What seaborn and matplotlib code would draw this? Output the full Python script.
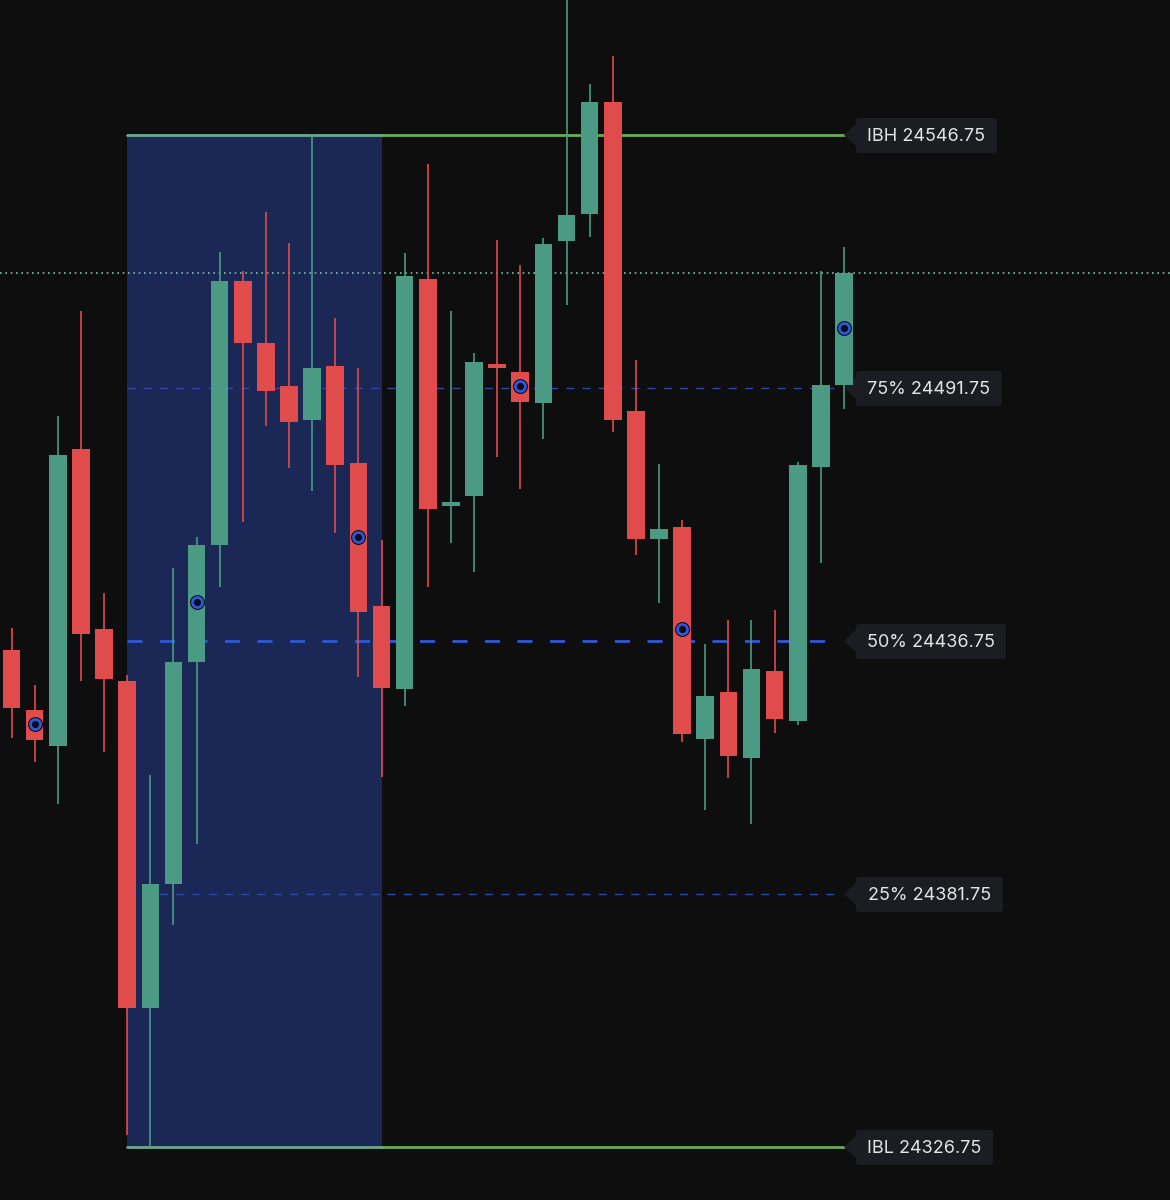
import matplotlib
matplotlib.use("Agg")
import matplotlib.pyplot as plt
import numpy as np
import pandas as pd
import seaborn as sns
from matplotlib.patches import FancyBboxPatch, Polygon

opens = [24434.75, 24421.75, 24414, 24478.5, 24439.25, 24428, 24357, 24384, 24432.25, 24457.5, 24515, 24501.5,
         24492.25, 24484.75, 24496.5, 24475.5, 24444.25, 24426.25, 24515.5, 24466, 24468.25, 24497, 24495.25,
         24488.5, 24523.75, 24529.5, 24554, 24486.75, 24459, 24461.5, 24415.5, 24425.75, 24411.25, 24430.25,
         24419.25, 24474.5, 24492.5]
highs = [24439.5, 24427.25, 24485.75, 24508.5, 24447.25, 24429.25, 24407.5, 24452.5, 24459.25, 24521.25, 24517.25,
         24530, 24523.25, 24546.75, 24507, 24496, 24458.75, 24521, 24540.5, 24508.5, 24499.25, 24524, 24518.5,
         24524.25, 24578.25, 24557.75, 24564, 24497.75, 24475.25, 24463, 24436, 24441.25, 24441.25, 24443.5,
         24475.75, 24517.25, 24522.5]
lows = [24415.75, 24410.5, 24401.25, 24428, 24412.5, 24329.25, 24326.75, 24375, 24392.5, 24448.5, 24462.5, 24483.5,
        24474.25, 24469.25, 24460.25, 24429, 24407.25, 24422.5, 24448.5, 24458, 24451.75, 24476.75, 24469.75,
        24480.75, 24509.75, 24524.5, 24482.25, 24455.5, 24445, 24414.75, 24400, 24407, 24397, 24416.75,
        24418.5, 24453.75, 24487.25]
closes = [24422.25, 24415.25, 24477.25, 24438.25, 24428.5, 24357, 24384, 24432.25, 24457.5, 24515, 24501.5, 24491,
          24484.25, 24496, 24475, 24443, 24426.5, 24516, 24465.5, 24467, 24497.5, 24496, 24488.75,
          24523, 24529.25, 24554, 24484.75, 24459, 24461, 24416.5, 24424.75, 24411.75, 24430.75, 24419.75,
          24475, 24492.5, 24516.75]

marker_bars = [1, 8, 15, 22, 29, 36]
marker_prices = [24418.75, 24445.25, 24459.25, 24492.25, 24439.25, 24504.75]

level_names = ["IBH", "75%", "50%", "25%", "IBL"]
level_prices = [24546.75, 24491.75, 24436.75, 24381.75, 24326.75]
last_price = 24516.75
session_start = 5
session_end = 16
levels_end = 36

BG = "#0e0e0e"
RED = "#e04b4c"
GREEN = "#4a9a84"
LEVEL_GREEN = "#6aab58"
LEVEL_TINT = "#6ca98c"
BLUE = "#2f58d8"


def draw_tag(ax, x, price, text, width):
    # tag is sized in pixels, anchored at the level's end
    px, py = ax.transData.transform((x, price))
    box = FancyBboxPatch((px + 12, py - 18), width - 12, 35, boxstyle="round,pad=0,rounding_size=3",
                         fc="#1c1d22", ec="none", transform=None, zorder=2.5)
    ax.add_artist(box)
    notch = Polygon([(px, py), (px + 13, py + 12), (px + 13, py - 12)], fc="#1c1d22", ec="none",
                    transform=None, zorder=2.5)
    ax.add_artist(notch)
    ax.text(px + 12 + (width - 12) / 2, py - 1.5, text, transform=None, color="#e4e4e6", fontsize=13,
            ha="center", va="center", family=["Inter", "DejaVu Sans"], zorder=7)


def main():
    sns.set_theme(style="dark", rc={"figure.facecolor": BG, "axes.facecolor": BG})
    df = pd.DataFrame({"open": opens, "high": highs, "low": lows, "close": closes})
    df["bar"] = np.arange(len(df))
    df["color"] = [GREEN if c > o else RED for o, c in zip(df["open"], df["close"])]

    fig = plt.figure(figsize=(11.7, 12), dpi=100)
    ax = fig.add_axes([0, 0, 1, 1])
    ax.set_xlim(-0.5, 50.1)
    ax.set_ylim(24315.2, 24576.1)
    ax.axis("off")

    ax.fill_between([session_start, session_end], level_prices[4], level_prices[0], color="#1b2855", lw=0, zorder=1)

    # levels, the session box tints them where they overlap
    for price in (level_prices[0], level_prices[4]):
        sns.lineplot(x=[session_end, levels_end], y=[price] * 2, color=LEVEL_GREEN, lw=2, ax=ax, zorder=2)
        sns.lineplot(x=[session_start, session_end], y=[price] * 2, color=LEVEL_TINT, lw=2, ax=ax, zorder=2)
    sns.lineplot(x=[session_start, levels_end - 0.6], y=[level_prices[2]] * 2, color=BLUE, lw=2, ax=ax, zorder=2)
    ax.lines[-1].set_dashes((5.4, 6.3))
    for i in (1, 3):
        sns.lineplot(x=[session_start, levels_end - 0.3], y=[level_prices[i]] * 2, color="#3146a8", lw=1, ax=ax, zorder=2)
        ax.lines[-1].set_dashes((5.8, 5.9))
    ax.axhline(last_price, color="#6cc0a0", lw=1.2, ls=(0, (1, 2.2)), zorder=2)

    # candles
    ax.vlines(df["bar"], df["low"], df["high"], colors=df["color"], lw=1.2, zorder=3)
    ax.bar(df["bar"], (df["close"] - df["open"]).abs(), bottom=df[["open", "close"]].min(axis=1),
           width=0.76, color=df["color"], lw=0, zorder=4)

    # session markers
    sns.scatterplot(x=marker_bars, y=marker_prices, s=115, color="#050510", linewidth=0, ax=ax, zorder=5)
    sns.scatterplot(x=marker_bars, y=marker_prices, s=52, color="#0c0d1a", edgecolor=BLUE, linewidth=2, ax=ax, zorder=5)

    widths = [141, 146, 150, 147, 137]
    for name, price, width in zip(level_names, level_prices, widths):
        draw_tag(ax, levels_end, price, f"{name} {price:.2f}", width + 12)

    ax.set_xlim(-0.5, 50.1)
    ax.set_ylim(24315.2, 24576.1)
    fig.savefig("out.png", dpi=100, facecolor=BG)


if __name__ == "__main__":
    main()
